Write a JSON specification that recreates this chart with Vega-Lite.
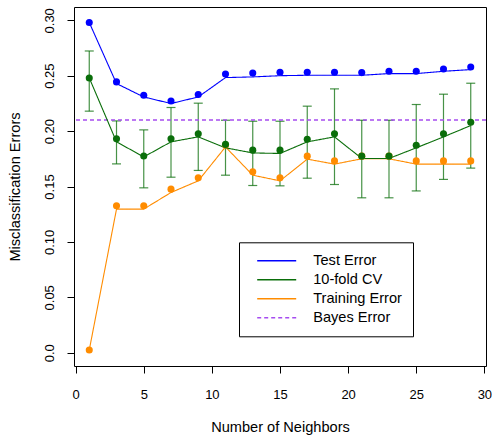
{
  "$schema": "https://vega.github.io/schema/vega-lite/v6.json",
  "width": 412,
  "height": 359,
  "autosize": {"type": "none"},
  "padding": {"left": 74, "top": 7, "right": 6, "bottom": 69},
  "background": "white",
  "datasets": {
    "curves": [
      {"k": 1, "series": "Training Error", "point": 0.0024, "line": 0.0024},
      {"k": 3, "series": "Training Error", "point": 0.1326, "line": 0.1296},
      {"k": 5, "series": "Training Error", "point": 0.1326, "line": 0.1296},
      {"k": 7, "series": "Training Error", "point": 0.1476, "line": 0.1446},
      {"k": 9, "series": "Training Error", "point": 0.1578, "line": 0.1551},
      {"k": 11, "series": "Training Error", "point": 0.1875, "line": 0.1857},
      {"k": 13, "series": "Training Error", "point": 0.1632, "line": 0.1602},
      {"k": 15, "series": "Training Error", "point": 0.1578, "line": 0.1551},
      {"k": 17, "series": "Training Error", "point": 0.1774, "line": 0.1747},
      {"k": 19, "series": "Training Error", "point": 0.1731, "line": 0.1702},
      {"k": 21, "series": "Training Error", "point": 0.1774, "line": 0.175},
      {"k": 23, "series": "Training Error", "point": 0.1774, "line": 0.175},
      {"k": 25, "series": "Training Error", "point": 0.1731, "line": 0.1702},
      {"k": 27, "series": "Training Error", "point": 0.1731, "line": 0.1702},
      {"k": 29, "series": "Training Error", "point": 0.1731, "line": 0.1702},
      {"k": 1, "series": "10-fold CV", "point": 0.248, "line": 0.248, "lo": 0.218, "hi": 0.2723},
      {"k": 3, "series": "10-fold CV", "point": 0.193, "line": 0.1903, "lo": 0.1704, "hi": 0.2092},
      {"k": 5, "series": "10-fold CV", "point": 0.1776, "line": 0.1767, "lo": 0.1488, "hi": 0.2011},
      {"k": 7, "series": "10-fold CV", "point": 0.193, "line": 0.1903, "lo": 0.1584, "hi": 0.2213},
      {"k": 9, "series": "10-fold CV", "point": 0.1975, "line": 0.1948, "lo": 0.1645, "hi": 0.2252},
      {"k": 11, "series": "10-fold CV", "point": 0.188, "line": 0.1849, "lo": 0.1602, "hi": 0.2098},
      {"k": 13, "series": "10-fold CV", "point": 0.1828, "line": 0.1803, "lo": 0.1509, "hi": 0.2089},
      {"k": 15, "series": "10-fold CV", "point": 0.1828, "line": 0.1798, "lo": 0.1506, "hi": 0.2089},
      {"k": 17, "series": "10-fold CV", "point": 0.1927, "line": 0.1903, "lo": 0.1575, "hi": 0.2225},
      {"k": 19, "series": "10-fold CV", "point": 0.1975, "line": 0.1948, "lo": 0.1518, "hi": 0.2381},
      {"k": 21, "series": "10-fold CV", "point": 0.1774, "line": 0.1753, "lo": 0.1398, "hi": 0.2098},
      {"k": 23, "series": "10-fold CV", "point": 0.1774, "line": 0.1753, "lo": 0.1398, "hi": 0.2098},
      {"k": 25, "series": "10-fold CV", "point": 0.1873, "line": 0.1849, "lo": 0.146, "hi": 0.224},
      {"k": 27, "series": "10-fold CV", "point": 0.1975, "line": 0.1948, "lo": 0.1564, "hi": 0.2333},
      {"k": 29, "series": "10-fold CV", "point": 0.208, "line": 0.205, "lo": 0.1666, "hi": 0.2432},
      {"k": 1, "series": "Test Error", "point": 0.298, "line": 0.298},
      {"k": 3, "series": "Test Error", "point": 0.2444, "line": 0.2429},
      {"k": 5, "series": "Test Error", "point": 0.2324, "line": 0.2308},
      {"k": 7, "series": "Test Error", "point": 0.2272, "line": 0.2249},
      {"k": 9, "series": "Test Error", "point": 0.233, "line": 0.2308},
      {"k": 11, "series": "Test Error", "point": 0.2516, "line": 0.2483},
      {"k": 13, "series": "Test Error", "point": 0.2525, "line": 0.2489},
      {"k": 15, "series": "Test Error", "point": 0.2531, "line": 0.25},
      {"k": 17, "series": "Test Error", "point": 0.2531, "line": 0.2504},
      {"k": 19, "series": "Test Error", "point": 0.2531, "line": 0.2504},
      {"k": 21, "series": "Test Error", "point": 0.2528, "line": 0.2504},
      {"k": 23, "series": "Test Error", "point": 0.254, "line": 0.2519},
      {"k": 25, "series": "Test Error", "point": 0.254, "line": 0.2519},
      {"k": 27, "series": "Test Error", "point": 0.2561, "line": 0.254},
      {"k": 29, "series": "Test Error", "point": 0.2579, "line": 0.2555}
    ],
    "bayes": [{"series": "Bayes Error", "error": 0.21}]
  },
  "data": {"name": "curves"},
  "layer": [
    {
      "transform": [{"filter": "datum.series === '10-fold CV'"}],
      "mark": {"type": "rule", "color": "#0a6e0a", "opacity": 0.75, "strokeWidth": 1.2},
      "encoding": {
        "x": {
          "field": "k", "type": "quantitative", "title": "Number of Neighbors",
          "scale": {"domain": [-0.12, 30.12], "nice": false, "zero": false},
          "axis": {
            "values": [0, 5, 10, 15, 20, 25, 30],
            "labelBaseline": "alphabetic", "labelAlign": "center", "labelPadding": 25,
            "labelFlush": false, "labelOverlap": false,
            "titleBaseline": "alphabetic", "titleAlign": "center", "titleX": 206, "titleY": 65.5
          }
        },
        "y": {
          "field": "lo", "type": "quantitative", "title": "Misclassification Errors",
          "scale": {"domain": [-0.012, 0.312], "nice": false, "zero": false},
          "axis": {
            "values": [0, 0.05, 0.1, 0.15, 0.2, 0.25, 0.3],
            "labelExpr": "datum.value === 0 ? '0.0' : format(datum.value, '.2f')",
            "labelAngle": -90, "labelAlign": "center", "labelBaseline": "alphabetic", "labelPadding": 14,
            "labelOverlap": false, "labelFlush": false,
            "titleAngle": -90, "titleBaseline": "alphabetic", "titleAlign": "center", "titleX": -54.7, "titleY": 179.5
          }
        },
        "y2": {"field": "hi"}
      }
    },
    {
      "transform": [{"filter": "datum.series === '10-fold CV'"}],
      "mark": {"type": "tick", "orient": "horizontal", "size": 9, "thickness": 1.2, "color": "#0a6e0a", "opacity": 0.75},
      "encoding": {
        "x": {"field": "k", "type": "quantitative"},
        "y": {"field": "lo", "type": "quantitative", "title": "Misclassification Errors"}
      }
    },
    {
      "transform": [{"filter": "datum.series === '10-fold CV'"}],
      "mark": {"type": "tick", "orient": "horizontal", "size": 9, "thickness": 1.2, "color": "#0a6e0a", "opacity": 0.75},
      "encoding": {
        "x": {"field": "k", "type": "quantitative"},
        "y": {"field": "hi", "type": "quantitative", "title": "Misclassification Errors"}
      }
    },
    {
      "data": {"name": "bayes"},
      "mark": {"type": "rule", "strokeWidth": 1.3},
      "encoding": {
        "y": {"field": "error", "type": "quantitative", "title": "Misclassification Errors"},
        "color": {"field": "series", "type": "nominal"},
        "strokeDash": {"field": "series", "type": "nominal"}
      }
    },
    {
      "mark": {"type": "line", "strokeWidth": 1.1},
      "encoding": {
        "x": {"field": "k", "type": "quantitative"},
        "y": {"field": "line", "type": "quantitative", "title": "Misclassification Errors"},
        "color": {
          "field": "series", "type": "nominal",
          "scale": {"domain": ["Test Error", "10-fold CV", "Training Error", "Bayes Error"], "range": ["#0000ff", "#0a6e0a", "#ff8c00", "#a64cf0"]},
          "legend": {
            "title": null, "orient": "none", "legendX": 165, "legendY": 235.3,
            "labelExpr": "datum.label + '\u00a0\u00a0\u00a0\u00a0\u00a0\u00a0\u00a0\u00a0\u00a0\u00a0\u00a0\u00a0\u00a0\u00a0\u00a0'"
          }
        },
        "strokeDash": {
          "field": "series", "type": "nominal",
          "scale": {"domain": ["Test Error", "10-fold CV", "Training Error", "Bayes Error"], "range": [[1, 0], [1, 0], [1, 0], [4, 3]]},
          "legend": {
            "title": null, "orient": "none", "legendX": 165, "legendY": 235.3,
            "labelExpr": "datum.label + '\u00a0\u00a0\u00a0\u00a0\u00a0\u00a0\u00a0\u00a0\u00a0\u00a0\u00a0\u00a0\u00a0\u00a0\u00a0'"
          }
        }
      }
    },
    {
      "mark": {"type": "circle", "size": 50, "opacity": 1},
      "encoding": {
        "x": {"field": "k", "type": "quantitative"},
        "y": {"field": "point", "type": "quantitative", "title": "Misclassification Errors"},
        "fill": {
          "field": "series", "type": "nominal",
          "scale": {"domain": ["Test Error", "10-fold CV", "Training Error"], "range": ["#0000ff", "#0a6e0a", "#ff8c00"]},
          "legend": null
        }
      }
    }
  ],
  "config": {
    "font": "Liberation Sans",
    "view": {"stroke": "black", "strokeWidth": 1},
    "axis": {
      "domain": false, "grid": false, "ticks": true, "tickColor": "black", "tickSize": 7, "tickWidth": 1,
      "labelColor": "black", "titleColor": "black", "labelFont": "Liberation Sans", "titleFont": "Liberation Sans",
      "labelFontSize": 13, "titleFontSize": 14.6, "titleFontWeight": "normal"
    },
    "legend": {
      "symbolType": "stroke", "symbolSize": 1521, "symbolStrokeWidth": 1.5, "clipHeight": 15,
      "rowPadding": 3, "padding": 11, "symbolOffset": 6.2, "labelOffset": 16,
      "strokeColor": "black", "fillColor": "white", "labelFontSize": 14.6, "labelFont": "Liberation Sans",
      "labelColor": "black", "labelLimit": 400
    }
  }
}
